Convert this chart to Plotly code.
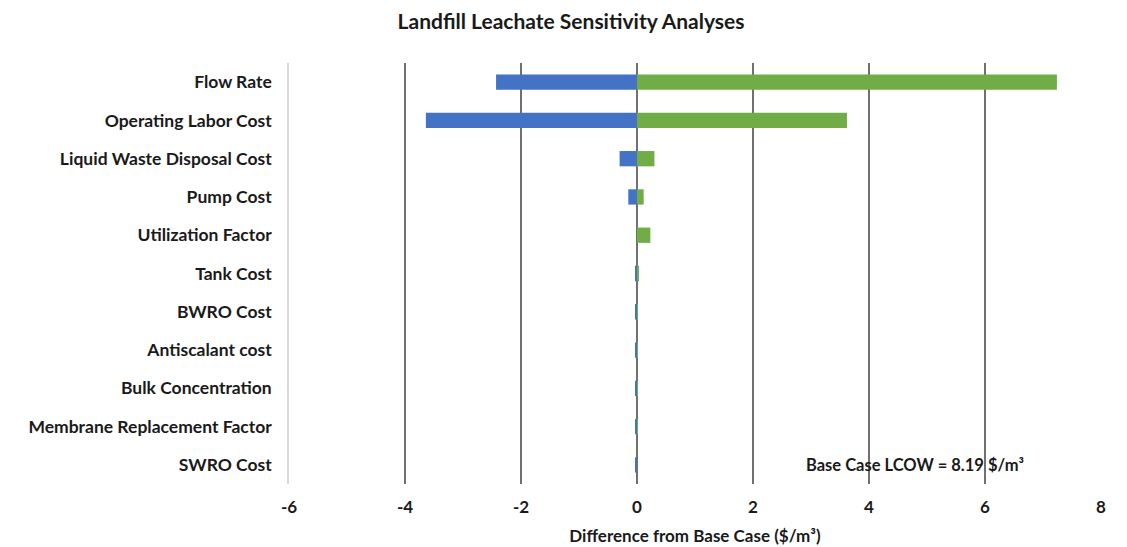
import plotly.graph_objects as go

categories = ["Flow Rate", "Operating Labor Cost", "Liquid Waste Disposal Cost", "Pump Cost",
              "Utilization Factor", "Tank Cost", "BWRO Cost", "Antiscalant cost",
              "Bulk Concentration", "Membrane Replacement Factor", "SWRO Cost"]
low_values = [-2.43, -3.64, -0.30, -0.15, 0.0, -0.02, -0.02, -0.02, -0.02, -0.02, -0.02]
high_values = [7.24, 3.62, 0.30, 0.115, 0.23, 0.03, 0.01, 0.01, 0.01, 0.01, 0.0]
x_ticks = [-6, -4, -2, 0, 2, 4, 6, 8]

FONT = "Lato"
TXT = "#1a1a1a"

fig = go.Figure()
fig.add_trace(go.Bar(y=categories, x=low_values, orientation="h",
                     marker=dict(color="#4472C4", line=dict(width=0)), name="Low"))
fig.add_trace(go.Bar(y=categories, x=high_values, orientation="h",
                     marker=dict(color="#70AD47", line=dict(width=0)), name="High"))

fig.update_layout(
    width=1127, height=547,
    barmode="relative", bargap=0.6,
    showlegend=False,
    plot_bgcolor="white", paper_bgcolor="white",
    margin=dict(l=281, r=34, t=55, b=69),
    font=dict(family=FONT, color=TXT, size=17),
    title=dict(text="<b>Landfill Leachate Sensitivity Analyses</b>", x=0.4996, xanchor="center",
               y=0.9744, yanchor="middle", yref="container",
               font=dict(family=FONT, size=21, color=TXT)),
    xaxis=dict(range=[-6, 8], tickvals=x_ticks, ticktext=[f"<b>{v}</b>" for v in x_ticks],
               showgrid=True, gridcolor="#707070", gridwidth=1.5,
               zeroline=True, zerolinecolor="#707070", zerolinewidth=1.5,
               showline=False, ticks="", ticklabelstandoff=11,
               tickfont=dict(family=FONT, size=17, color=TXT),
               title=dict(text="<b>Difference from Base Case ($/m³)</b>", standoff=14,
                          font=dict(family=FONT, size=17, color=TXT))),
    yaxis=dict(categoryorder="array", categoryarray=categories, autorange="reversed",
               tickvals=categories, ticktext=[f"<b>{c}</b>" for c in categories],
               tickfont=dict(family=FONT, size=17.5, color=TXT),
               showline=True, linecolor="#d9d9d9", linewidth=1.5, showgrid=False,
               ticks="", ticklabelstandoff=12),
)

fig.add_annotation(text="<b>Base Case LCOW = 8.19 $/m³</b>", xref="x", yref="y",
                   x=2.88, y="SWRO Cost", xanchor="left", yanchor="middle", showarrow=False,
                   font=dict(family=FONT, size=16.5, color=TXT))

fig.write_html("out.html")
